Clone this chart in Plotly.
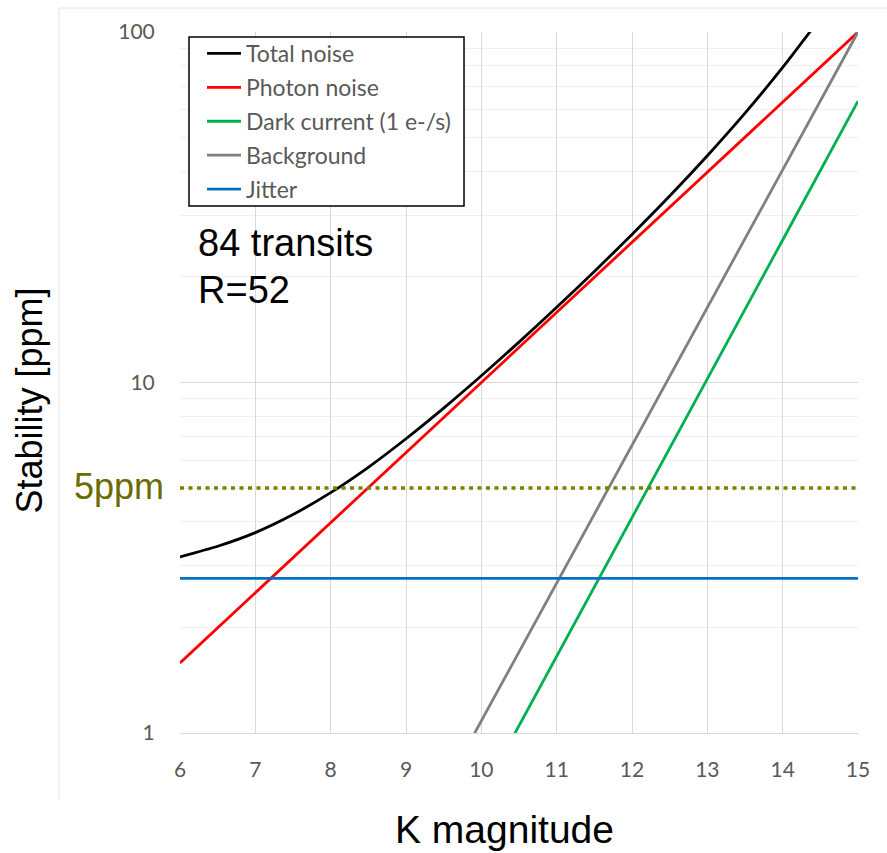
import plotly.graph_objects as go

# K magnitude grid used for every noise term
k_mag = [6, 6.5, 7, 7.5, 8, 8.5, 9, 9.5, 10, 10.5, 11, 11.5, 12, 12.5, 13, 13.5, 14, 14.5]
total_noise = [3.18, 3.41, 3.73, 4.20, 4.85, 5.73, 6.91, 8.45, 10.45, 13.04, 16.39,
               20.74, 26.45, 34.03, 44.35, 58.67, 79.24, 109.5]

k_photon = [6, 15]
photon_noise = [1.585, 100.0]

k_dark = [10, 11, 12, 13, 14, 15]
dark_current = [0.665, 1.65, 4.12, 10.24, 25.5, 63.5]

k_background = [9, 10, 11, 12, 13, 14, 15]
background = [0.438, 1.084, 2.68, 6.62, 16.4, 40.5, 100.0]

k_jitter = [6, 15]
jitter = [2.76, 2.76]

k_requirement = [6, 15]
requirement = [5, 5]

y_tick_vals = [1, 10, 100]
y_tick_text = ["1", "10", "100"]
y_minor_vals = [2, 3, 4, 5, 6, 7, 8, 9, 20, 30, 40, 50, 60, 70, 80, 90]
x_tick_vals = [6, 7, 8, 9, 10, 11, 12, 13, 14, 15]

ARIAL = "Liberation Sans, Arial, sans-serif"
TICKFONT = "Lato, Carlito, sans-serif"

fig = go.Figure()

series = [
    ("Total noise", k_mag, total_noise, "#000000", "spline"),
    ("Photon noise", k_photon, photon_noise, "#FF0000", "linear"),
    ("Dark current (1 e-/s)", k_dark, dark_current, "#00B050", "linear"),
    ("Background", k_background, background, "#808080", "linear"),
    ("Jitter", k_jitter, jitter, "#0070C0", "linear"),
]
for i, (name, xs, ys, color, shape) in enumerate(series):
    fig.add_trace(go.Scatter(
        x=xs, y=ys, mode="lines", name=name, legendgroup=f"g{i}",
        line=dict(color=color, width=2.8, shape=shape, smoothing=0.6),
    ))

fig.add_trace(go.Scatter(
    x=k_requirement, y=requirement, mode="lines", showlegend=False,
    line=dict(color="#7F7F00", width=3.5, dash="4px,4.5px"),
))

fig.update_layout(
    width=887, height=853,
    margin=dict(l=180, r=29, t=32, b=120),
    paper_bgcolor="white", plot_bgcolor="white",
    showlegend=True,
    legend=dict(
        x=0.0133, y=1.0, xanchor="left", yanchor="top",
        bgcolor="rgba(0,0,0,0)", borderwidth=0,
        font=dict(family=TICKFONT, size=23, color="#595959"),
        itemwidth=34, indentation=13, tracegroupgap=1,
    ),
    xaxis=dict(
        range=[6, 15], tickvals=x_tick_vals, showgrid=True,
        gridcolor="#d9d9d9", gridwidth=1.3, zeroline=False,
        showline=True, linecolor="#d9d9d9", linewidth=1.3,
        ticks="outside", ticklen=18, tickcolor="rgba(0,0,0,0)",
        tickfont=dict(family=TICKFONT, size=21, color="#595959"),
    ),
    yaxis=dict(
        type="log", range=[0, 2], tickvals=y_tick_vals, ticktext=y_tick_text,
        showgrid=True, gridcolor="#d9d9d9", gridwidth=1.3, zeroline=False,
        ticks="outside", ticklen=20, tickcolor="rgba(0,0,0,0)",
        tickfont=dict(family=TICKFONT, size=21, color="#595959"),
        minor=dict(tickvals=y_minor_vals, showgrid=True, gridcolor="#efefef",
                   gridwidth=1.3, ticks=""),
    ),
)

# legend frame
fig.add_shape(type="rect", xref="paper", yref="paper", layer="above",
              x0=0.0133, x1=0.4189, y0=0.7518, y1=0.9929,
              fillcolor="white", line=dict(color="#000000", width=1.5))

# light frame around the chart object
fig.add_shape(type="line", xref="paper", yref="paper",
              x0=-0.1785, x1=-0.1785, y0=-0.0956, y1=1.0342,
              line=dict(color="#e3e3e3", width=1))
fig.add_shape(type="line", xref="paper", yref="paper",
              x0=-0.1785, x1=1.05, y0=1.0342, y1=1.0342,
              line=dict(color="#e3e3e3", width=1))

annotations = [
    dict(text="84 transits", x=0.0236, y=0.699, xanchor="left", yanchor="middle",
         font=dict(family=ARIAL, size=38, color="#000000")),
    dict(text="R=52", x=0.0236, y=0.632, xanchor="left", yanchor="middle",
         font=dict(family=ARIAL, size=38, color="#000000")),
    dict(text="5ppm", x=-0.0206, y=0.352, xanchor="right", yanchor="middle",
         font=dict(family=ARIAL, size=36, color="#6B6B00")),
    dict(text="K magnitude", x=0.478, y=-0.137, xanchor="center", yanchor="middle",
         font=dict(family=ARIAL, size=39, color="#000000")),
    dict(text="Stability [ppm]", x=-0.222, y=0.475, xanchor="center", yanchor="middle",
         textangle=-90, font=dict(family=ARIAL, size=36, color="#000000")),
]
for a in annotations:
    fig.add_annotation(xref="paper", yref="paper", showarrow=False, **a)

fig.write_html("out.html")
